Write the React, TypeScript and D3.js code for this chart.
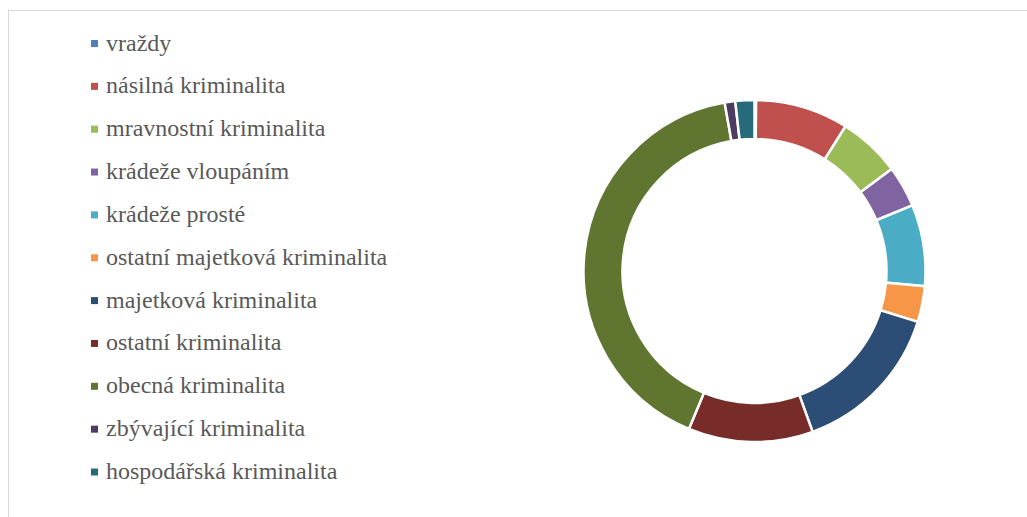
import React, { useEffect, useRef } from "react";
import * as d3 from "d3";

const categories = [
  "vraždy",
  "násilná kriminalita",
  "mravnostní kriminalita",
  "krádeže vloupáním",
  "krádeže prosté",
  "ostatní majetková kriminalita",
  "majetková kriminalita",
  "ostatní kriminalita",
  "obecná kriminalita",
  "zbývající kriminalita",
  "hospodářská kriminalita",
];

// share in percent
const values = [0.15, 8.8, 5.9, 3.9, 7.7, 3.4, 14.7, 11.8, 41.0, 1.0, 1.8];

const colors = [
  "#4F81BD",
  "#C0504D",
  "#9BBB59",
  "#8064A2",
  "#4BACC6",
  "#F79646",
  "#2C4D75",
  "#772C2A",
  "#5F7530",
  "#4D3B62",
  "#276A7C",
];

const W = 1027;
const H = 517;

export default function App() {
  const ref = useRef<SVGSVGElement>(null);

  useEffect(() => {
    const svg = d3.select(ref.current);
    svg.selectAll("*").remove();

    // chart frame
    svg
      .append("rect")
      .attr("x", 8.5)
      .attr("y", 10.5)
      .attr("width", W + 20)
      .attr("height", H + 20)
      .attr("fill", "white")
      .attr("stroke", "#d9d9d9")
      .attr("stroke-width", 1);

    const data = categories.map((name, i) => ({ name, value: values[i], color: colors[i] }));

    const pie = d3
      .pie<any>()
      .sort(null)
      .value((d) => d.value);

    const arc = d3.arc<any>().innerRadius(132).outerRadius(171);

    const g = svg.append("g").attr("transform", "translate(754.5,271)");
    g.selectAll("path")
      .data(pie(data))
      .enter()
      .append("path")
      .attr("d", arc)
      .attr("fill", (d) => d.data.color)
      .attr("stroke", "white")
      .attr("stroke-width", 2.5);

    // legend
    const y = d3
      .scalePoint<string>()
      .domain(categories)
      .range([43.5, 472]);

    const leg = svg
      .append("g")
      .selectAll("g")
      .data(data)
      .enter()
      .append("g")
      .attr("transform", (d) => `translate(0,${y(d.name)})`);

    leg
      .append("rect")
      .attr("x", 91)
      .attr("y", -3.5)
      .attr("width", 7)
      .attr("height", 7)
      .attr("fill", (d) => d.color);

    leg
      .append("text")
      .attr("x", 106)
      .attr("y", 7)
      .style("font-family", '"Liberation Serif", "Times New Roman", "DejaVu Serif", serif')
      .style("font-size", "24px")
      .attr("fill", "#595959")
      .text((d) => d.name);
  }, []);

  return (
    <svg
      ref={ref}
      width={W}
      height={H}
      style={{ position: "absolute", left: 0, top: 0 }}
    />
  );
}
